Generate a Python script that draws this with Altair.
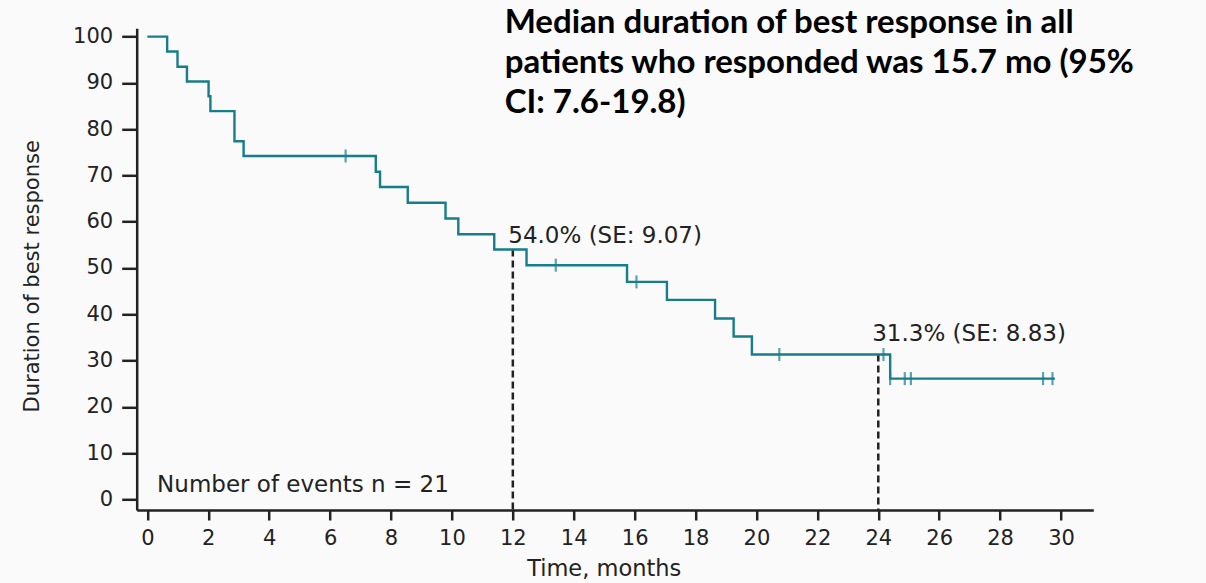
import altair as alt
import pandas as pd

# Kaplan-Meier step curve (time in months, % without progression of best response)
step_times = [0, 0.65, 0.99, 1.30, 2.01, 2.07, 2.86, 3.16, 7.50, 7.64, 8.55, 9.79,
              10.21, 11.39, 12.45, 15.75, 17.06, 18.64, 19.25, 19.85, 24.39, 29.80]
step_surv = [100, 96.8, 93.5, 90.3, 87.1, 83.9, 77.4, 74.2, 70.8, 67.5, 64.1, 60.7,
             57.3, 54.0, 50.6, 47.0, 43.1, 39.1, 35.2, 31.3, 26.1, 26.1]

# censor marks
censor_times = [6.51, 13.41, 16.06, 20.75, 24.17, 24.39, 24.87, 25.07, 29.41, 29.72]
censor_surv = [74.2, 50.6, 47.0, 31.3, 31.3, 26.1, 26.1, 26.1, 26.1, 26.1]

# landmark estimates
landmark_times = [12, 24]
landmark_surv = [54.0, 31.3]
landmark_labels = ["54.0% (SE: 9.07)", "31.3% (SE: 8.83)"]
landmark_label_x = [11.85, 23.8]
landmark_label_y = [55.5, 34.3]

events_label = ["Number of events n = 21"]
events_label_x = [0.32]
events_label_y = [1.5]

title_lines = ["Median duration of best response in all",
               "patients who responded was 15.7 mo (95%",
               "CI: 7.6-19.8)"]

x_ticks = list(range(0, 31, 2))
y_ticks = list(range(0, 101, 10))

X_DOMAIN = [-0.35, 31.06]
Y_DOMAIN = [-2.3, 101.8]

TEAL = "#177d8b"
INK = "#222222"
FONT = "DejaVu Sans"

curve_df = pd.DataFrame({"t": step_times, "s": step_surv})
cens_df = pd.DataFrame({"t": censor_times, "s": censor_surv})
land_df = pd.DataFrame({"t": landmark_times, "s": landmark_surv, "label": landmark_labels,
                        "lx": landmark_label_x, "ly": landmark_label_y})
ev_df = pd.DataFrame({"label": events_label, "lx": events_label_x, "ly": events_label_y})
title_df = pd.DataFrame({"txt": ["\n".join(title_lines)]})

xscale = alt.Scale(domain=X_DOMAIN, nice=False, zero=False)
yscale = alt.Scale(domain=Y_DOMAIN, nice=False, zero=False)

x_axis = alt.Axis(values=x_ticks, grid=False, tickSize=10, tickWidth=2.5, domainWidth=2.5,
                  domainColor=INK, tickColor=INK, labelColor=INK, labelFont=FONT,
                  labelFontSize=21, labelPadding=7, title="Time, months", titleFont=FONT,
                  titleFontSize=22.5, titleFontWeight="normal", titleColor=INK,
                  titleX=467, titleY=65, titleBaseline="alphabetic", titleAlign="center")
y_axis = alt.Axis(values=y_ticks, grid=False, tickSize=15, tickWidth=2.5, domainWidth=2.5,
                  domainColor=INK, tickColor=INK, labelColor=INK, labelFont=FONT,
                  labelFontSize=21, labelPadding=9, title="Duration of best response",
                  titleFont=FONT, titleFontSize=21, titleFontWeight="normal", titleColor=INK,
                  titleAngle=270, titleX=-104, titleY=247.5, titleAlign="center",
                  titleBaseline="middle")

curve = alt.Chart(curve_df).mark_line(interpolate="step-after", color=TEAL, strokeWidth=2.4).encode(
    x=alt.X("t:Q", scale=xscale, axis=x_axis),
    y=alt.Y("s:Q", scale=yscale, axis=y_axis),
)

cens = alt.Chart(cens_df).mark_tick(orient="vertical", color=TEAL, size=13, thickness=2.2).encode(
    x=alt.X("t:Q", scale=xscale),
    y=alt.Y("s:Q", scale=yscale),
)

dash = alt.Chart(land_df).mark_rule(color=INK, strokeWidth=2.5, strokeDash=[7, 4]).encode(
    x=alt.X("t:Q", scale=xscale),
    y=alt.Y("s:Q", scale=yscale),
    y2=alt.Y2(datum=Y_DOMAIN[0]),
)

land_text = alt.Chart(land_df).mark_text(align="left", baseline="alphabetic", font=FONT,
                                         fontSize=23, color=INK).encode(
    x=alt.X("lx:Q", scale=xscale),
    y=alt.Y("ly:Q", scale=yscale),
    text="label:N",
)

ev_text = alt.Chart(ev_df).mark_text(align="left", baseline="alphabetic", font=FONT,
                                     fontSize=23, color=INK).encode(
    x=alt.X("lx:Q", scale=xscale),
    y=alt.Y("ly:Q", scale=yscale),
    text="label:N",
)

title_text = alt.Chart(title_df).mark_text(align="left", baseline="top", font="Lato",
                                           fontWeight="bold", fontSize=33, lineHeight=40,
                                           lineBreak="\n", color="#000000").encode(
    x=alt.value(368),
    y=alt.value(-21),
    text="txt:N",
)

chart = alt.layer(dash, curve, cens, land_text, ev_text, title_text).properties(
    width=956.6,
    height=481.7,
    autosize=alt.AutoSizeParams(type="none"),
    padding={"left": 136.7, "top": 28.3, "right": 112.7, "bottom": 73},
    background="#fafafa",
).configure_view(stroke=None)

chart.save("out.html", embed_options={"renderer": "svg", "actions": False})
